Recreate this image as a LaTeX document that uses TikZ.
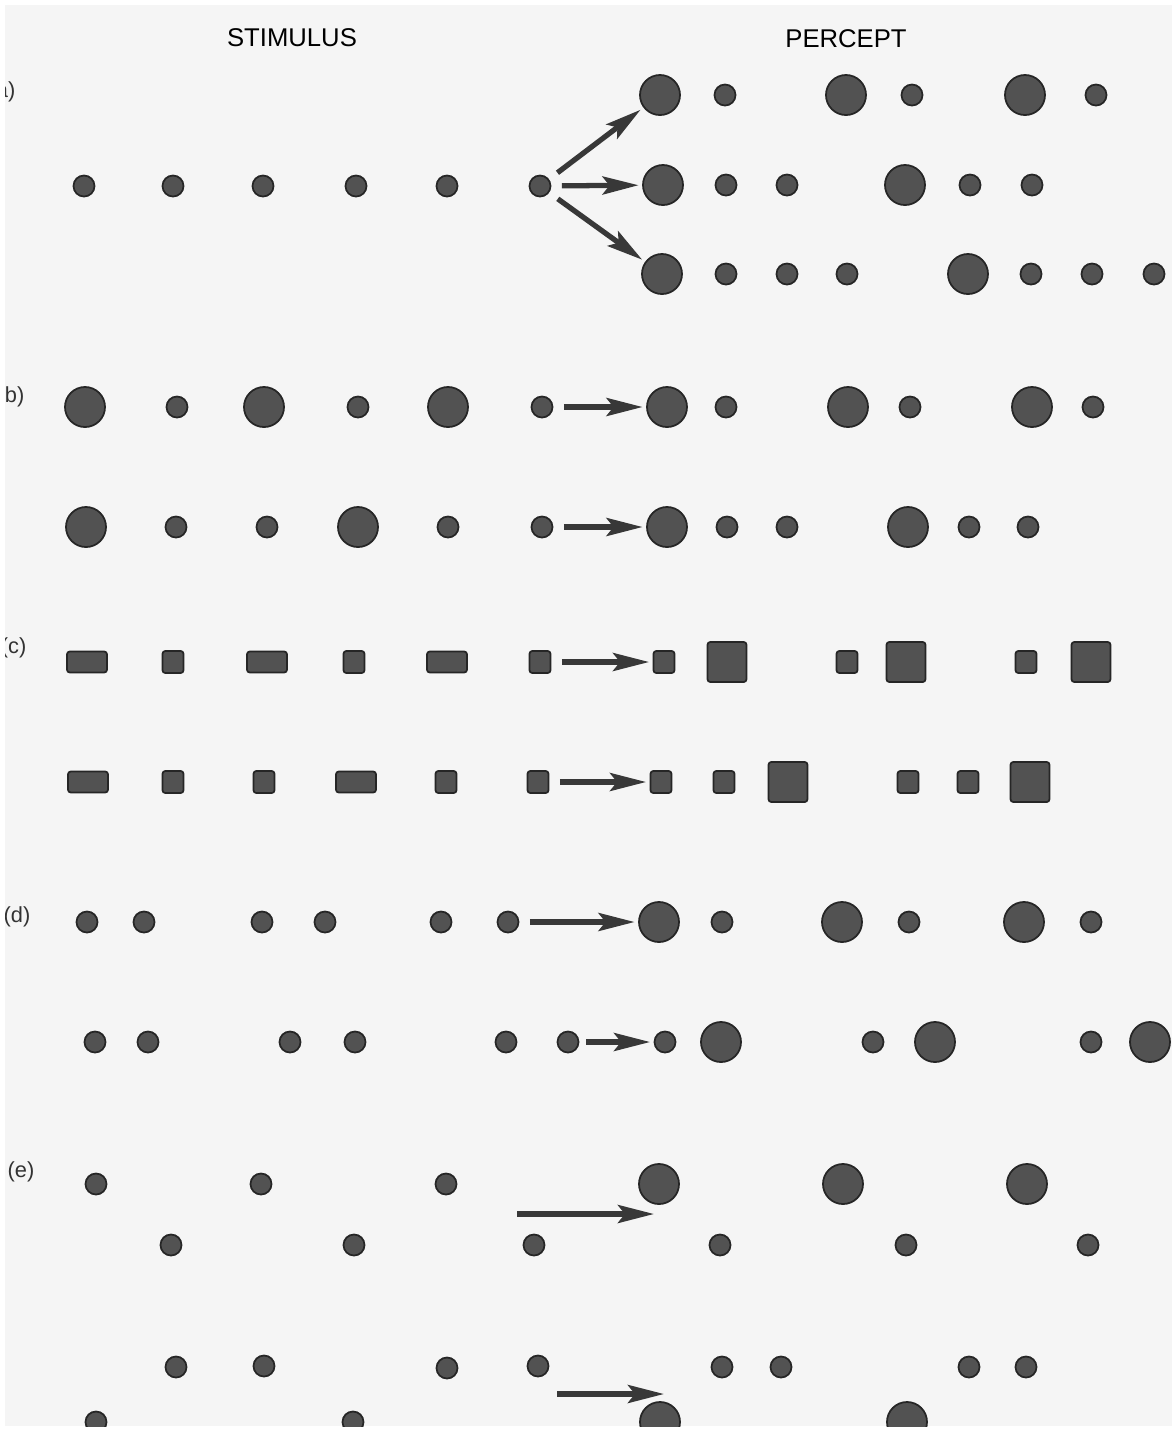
\documentclass[tikz,border=0pt]{standalone}
\usepackage{fontspec}
\setmainfont{Liberation Sans}
\usetikzlibrary{arrows.meta}

\begin{document}
\begin{tikzpicture}[x=0.01cm,y=-0.01cm,
  smalldot/.style={circle,fill=black!68,draw=black!85,line width=0.5pt,inner sep=0pt,minimum size=0.21cm},
  bigdot/.style={smalldot,minimum size=0.40cm},
  smallsq/.style={rectangle,rounded corners=0.8pt,fill=black!68,draw=black!85,line width=0.5pt,inner sep=0pt,minimum width=0.21cm,minimum height=0.22cm},
  widesq/.style={smallsq,minimum width=0.40cm,minimum height=0.21cm},
  bigsq/.style={smallsq,minimum width=0.39cm,minimum height=0.40cm},
  arr/.style={-{Stealth[length=3.6mm,width=1.8mm,inset=0.7mm]},line width=1.5pt,black!78,shorten <=3pt,shorten >=1pt},
  lbl/.style={font=\fontsize{7.3}{9}\selectfont,inner sep=0pt},
  tag/.style={font=\fontsize{6.2}{8}\selectfont,black!80,inner sep=0pt,anchor=east}]
  \useasboundingbox (0,0) rectangle (1172,1435);
  \fill[black!4] (5,5) rectangle (1172,1426);
  \begin{scope}
  \clip (5,5) rectangle (1172,1426);
  % titres
  \node[lbl] (stim) at (292,38) {STIMULUS};
  \node[lbl] (perc) at (846,39) {PERCEPT};
  \node[tag] (ta) at (16,92) {a)};
  \node[tag] (tb) at (25,397) {b)};
  \node[tag] (tc) at (27,648) {(c)};
  \node[tag] (td) at (31,917) {(d)};
  \node[tag] (te) at (35,1172) {(e)};
  % (a) une rangee, trois perceptions
  \foreach \x [count=\i] in {84,173,263,356,447,540} \node[smalldot] (sa\i) at (\x,186) {};
  \foreach \x/\s [count=\i] in {660/bigdot,725/smalldot,846/bigdot,912/smalldot,1025/bigdot,1096/smalldot}
     \node[\s] (pa1-\i) at (\x,95) {};
  \foreach \x/\s [count=\i] in {663/bigdot,726/smalldot,787/smalldot,905/bigdot,970/smalldot,1032/smalldot}
     \node[\s] (pa2-\i) at (\x,185) {};
  \foreach \x/\s [count=\i] in {662/bigdot,726/smalldot,787/smalldot,847/smalldot,968/bigdot,1031/smalldot,1092/smalldot,1154/smalldot}
     \node[\s] (pa3-\i) at (\x,274) {};
  \draw[arr] (sa6) -- (pa1-1);
  \draw[arr] (sa6) -- (pa2-1);
  \draw[arr] (sa6) -- (pa3-1);
  % (b) intensite
  \foreach \x/\s [count=\i] in {85/bigdot,177/smalldot,264/bigdot,358/smalldot,448/bigdot,542/smalldot}
     \node[\s] (sb1-\i) at (\x,407) {};
  \foreach \x/\s [count=\i] in {667/bigdot,726/smalldot,848/bigdot,910/smalldot,1032/bigdot,1093/smalldot}
     \node[\s] (pb1-\i) at (\x,407) {};
  \foreach \x/\s [count=\i] in {86/bigdot,176/smalldot,267/smalldot,358/bigdot,448/smalldot,542/smalldot}
     \node[\s] (sb2-\i) at (\x,527) {};
  \foreach \x/\s [count=\i] in {667/bigdot,727/smalldot,787/smalldot,908/bigdot,969/smalldot,1028/smalldot}
     \node[\s] (pb2-\i) at (\x,527) {};
  \draw[arr] (sb1-6) -- (pb1-1);
  \draw[arr] (sb2-6) -- (pb2-1);
  % (c) duree
  \foreach \x/\s [count=\i] in {87/widesq,173/smallsq,267/widesq,354/smallsq,447/widesq,540/smallsq}
     \node[\s] (sc1-\i) at (\x,662) {};
  \foreach \x/\s [count=\i] in {664/smallsq,727/bigsq,847/smallsq,906/bigsq,1026/smallsq,1091/bigsq}
     \node[\s] (pc1-\i) at (\x,662) {};
  \foreach \x/\s [count=\i] in {88/widesq,173/smallsq,264/smallsq,356/widesq,446/smallsq,538/smallsq}
     \node[\s] (sc2-\i) at (\x,782) {};
  \foreach \x/\s [count=\i] in {661/smallsq,724/smallsq,788/bigsq,908/smallsq,968/smallsq,1030/bigsq}
     \node[\s] (pc2-\i) at (\x,782) {};
  \draw[arr] (sc1-6) -- (pc1-1);
  \draw[arr] (sc2-6) -- (pc2-1);
  % (d) intervalles
  \foreach \x [count=\i] in {87,144,262,325,441,508} \node[smalldot] (sd1-\i) at (\x,922) {};
  \foreach \x/\s [count=\i] in {659/bigdot,722/smalldot,842/bigdot,909/smalldot,1024/bigdot,1091/smalldot}
     \node[\s] (pd1-\i) at (\x,922) {};
  \foreach \x [count=\i] in {95,148,290,355,506,568} \node[smalldot] (sd2-\i) at (\x,1042) {};
  \foreach \x/\s [count=\i] in {665/smalldot,721/bigdot,873/smalldot,935/bigdot,1091/smalldot,1150/bigdot}
     \node[\s] (pd2-\i) at (\x,1042) {};
  \draw[arr] (sd1-6) -- (pd1-1);
  \draw[arr,shorten <=2pt] (sd2-6) -- (pd2-1);
  % (e) hauteur
  \foreach \x/\y [count=\i] in {96/1184,171/1245,261/1184,354/1245,446/1184,534/1245}
     \node[smalldot] (se1-\i) at (\x,\y) {};
  \foreach \x/\y/\s [count=\i] in {659/1184/bigdot,720/1245/smalldot,843/1184/bigdot,906/1245/smalldot,1027/1184/bigdot,1088/1245/smalldot}
     \node[\s] (pe1-\i) at (\x,\y) {};
  \foreach \x/\y [count=\i] in {96/1422,176/1367,264/1366,353/1422,447/1368,538/1366}
     \node[smalldot] (se2-\i) at (\x,\y) {};
  \foreach \x/\y/\s [count=\i] in {660/1422/bigdot,722/1367/smalldot,781/1367/smalldot,907/1422/bigdot,969/1367/smalldot,1026/1367/smalldot}
     \node[\s] (pe2-\i) at (\x,\y) {};
  \coordinate (e1a) at (517,1214);
  \coordinate (e1b) at (654,1214);
  \coordinate (e2a) at (557,1394);
  \coordinate (e2b) at (664,1394);
  \draw[arr,shorten <=0pt,shorten >=0pt] (e1a) -- (e1b);
  \draw[arr,shorten <=0pt,shorten >=0pt] (e2a) -- (e2b);
  \end{scope}
\end{tikzpicture}
\end{document}
